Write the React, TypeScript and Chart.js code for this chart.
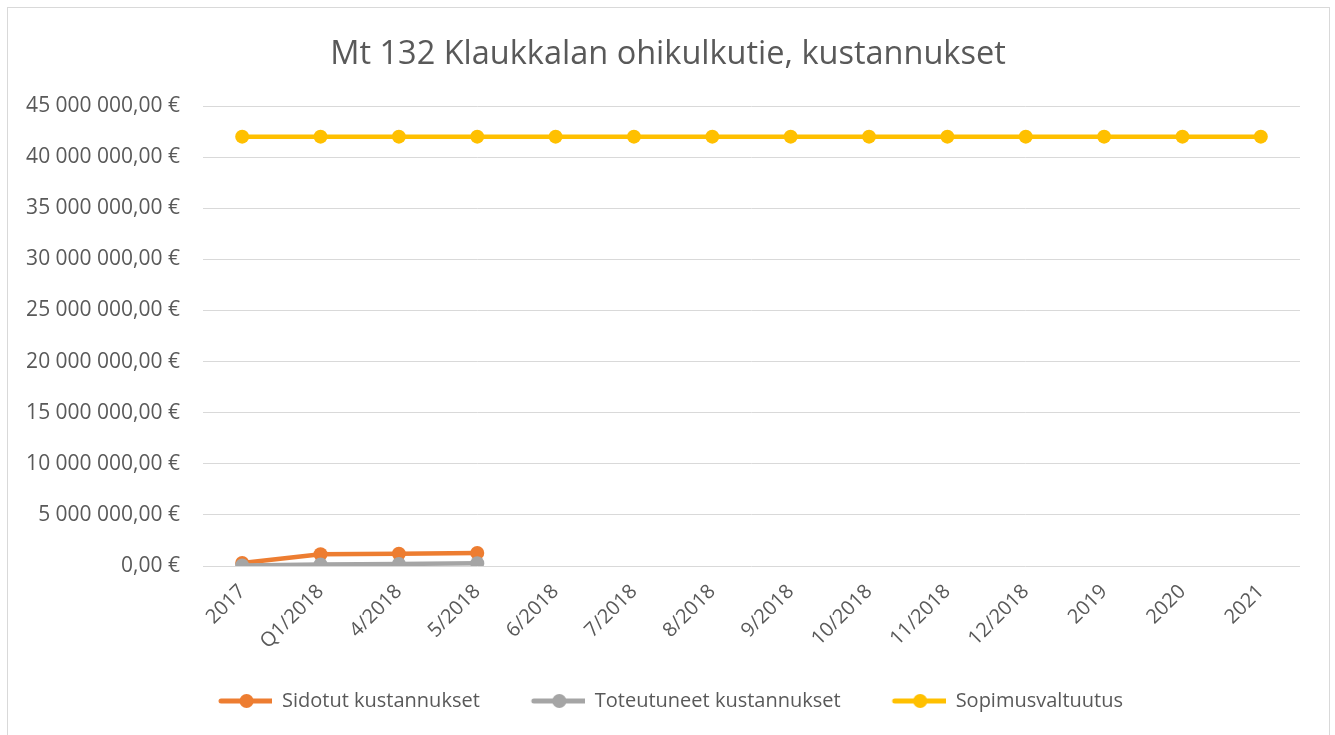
import React, { useEffect, useRef } from "react";
import { Chart, registerables } from "chart.js";

Chart.register(...registerables);

const TITLE = "Mt 132 Klaukkalan ohikulkutie, kustannukset";
const categories = ["2017", "Q1/2018", "4/2018", "5/2018", "6/2018", "7/2018", "8/2018", "9/2018", "10/2018", "11/2018", "12/2018", "2019", "2020", "2021"];
const sidotut = [300000, 1150000, 1200000, 1280000, null, null, null, null, null, null, null, null, null, null];
const toteutuneet = [60000, 150000, 200000, 270000, null, null, null, null, null, null, null, null, null, null];
const sopimus = [42000000, 42000000, 42000000, 42000000, 42000000, 42000000, 42000000, 42000000, 42000000, 42000000, 42000000, 42000000, 42000000, 42000000];
const seriesNames = ["Sidotut kustannukset", "Toteutuneet kustannukset", "Sopimusvaltuutus"];
const colors = ["#ED7D31", "#A5A5A5", "#FFC000"];
const yMax = 45000000;
const yStep = 5000000;

const FONT = "'Open Sans', 'Noto Sans', sans-serif";
const TEXT = "#595959";

function fmt(v: number): string {
  const s = Math.round(v).toString().replace(/\B(?=(\d{3})+(?!\d))/g, " ");
  return s + ",00 €";
}

const ICON_W = 95;
function legendIcon(color: string): HTMLCanvasElement {
  const c = document.createElement("canvas");
  c.width = ICON_W;
  c.height = 16;
  const ctx = c.getContext("2d")!;
  const x0 = ICON_W - 57 + 3;
  ctx.strokeStyle = color;
  ctx.lineWidth = 5;
  ctx.lineCap = "round";
  ctx.beginPath();
  ctx.moveTo(x0 + 3, 8);
  ctx.lineTo(x0 + 54, 8);
  ctx.stroke();
  ctx.fillStyle = color;
  ctx.beginPath();
  ctx.arc(x0 + 28.5, 8, 7, 0, Math.PI * 2);
  ctx.fill();
  return c;
}

const framePlugin = {
  id: "frame",
  afterLayout(chart: any) {
    if (chart.titleBlock) chart.titleBlock.left = 36;
    if (chart.legend) chart.legend.left = 0;
  },
  beforeDraw(chart: any) {
    const ctx = chart.ctx;
    ctx.save();
    ctx.fillStyle = "#ffffff";
    ctx.fillRect(0, 0, chart.width, chart.height);
    ctx.strokeStyle = "#d9d9d9";
    ctx.lineWidth = 1;
    ctx.strokeRect(7.5, 7.5, 1322, 760);
    ctx.restore();
  },
};

export default function App() {
  const ref = useRef<HTMLCanvasElement | null>(null);
  useEffect(() => {
    const icons = colors.map(legendIcon);
    const mk = (i: number, data: (number | null)[], order: number) => ({
      label: seriesNames[i],
      data,
      borderColor: colors[i],
      backgroundColor: colors[i],
      borderWidth: 4.5,
      pointRadius: 7,
      pointHoverRadius: 7,
      pointBorderWidth: 0,
      pointBackgroundColor: colors[i],
      tension: 0,
      spanGaps: false,
      order,
    });
    const chart = new Chart(ref.current!, {
      type: "line",
      data: {
        labels: categories,
        datasets: [mk(0, sidotut, 1), mk(1, toteutuneet, 0), mk(2, sopimus, 2)],
      },
      options: {
        responsive: false,
        animation: false,
        layout: { padding: { left: 0, right: 35, top: 0, bottom: 14 } },
        plugins: {
          title: {
            display: true,
            text: TITLE,
            color: TEXT,
            font: { family: FONT, size: 32.5, weight: "normal" },
            padding: { top: 35, bottom: 32 },
          },
          legend: {
            position: "bottom",
            labels: {
              color: TEXT,
              font: { family: FONT, size: 20 },
              usePointStyle: true,
              pointStyleWidth: ICON_W,
              padding: 10,
              generateLabels: (chart: any) => {
                const base = (Chart.defaults.plugins.legend.labels as any).generateLabels(chart);
                return base
                  .sort((a: any, b: any) => a.datasetIndex - b.datasetIndex)
                  .map((l: any) => ({ ...l, pointStyle: icons[l.datasetIndex], fontColor: TEXT }));
              },
            },
          },
          tooltip: { enabled: false },
        },
        scales: {
          x: {
            offset: true,
            grid: { display: false },
            border: { display: false },
            ticks: {
              color: TEXT,
              font: { family: FONT, size: 20 },
              maxRotation: 45,
              minRotation: 45,
              padding: 6,
              autoSkip: false,
            },
            afterFit: (s: any) => {
              s.height = 115;
            },
          },
          y: {
            min: 0,
            max: yMax,
            grid: { color: "#d9d9d9", lineWidth: 1, drawTicks: false },
            border: { display: false },
            ticks: {
              stepSize: yStep,
              color: TEXT,
              font: { family: FONT, size: 21 },
              padding: 23,
              callback: (v: any) => fmt(Number(v)),
            },
            afterFit: (s: any) => {
              s.width = 203;
            },
          },
        },
      },
      plugins: [framePlugin],
    });
    return () => chart.destroy();
  }, []);
  return (
    <div style={{ position: "absolute", left: 0, top: 0, width: 1335, height: 735, overflow: "hidden" }}>
      <canvas ref={ref} width={1335} height={735} />
    </div>
  );
}
